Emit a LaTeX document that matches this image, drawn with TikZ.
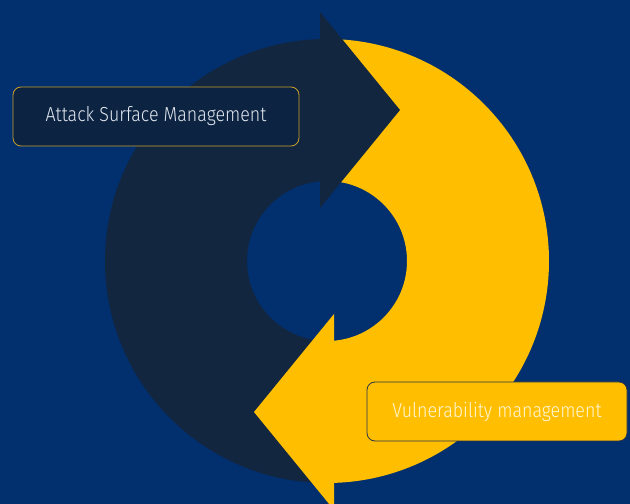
\documentclass[tikz,border=0pt]{standalone}
\usepackage{fontspec}
\newfontfamily\lblfont[FakeStretch=0.88]{Fira Sans Light}
\definecolor{bg}{HTML}{022F6E}
\definecolor{navy}{HTML}{13263F}
\definecolor{gold}{HTML}{FFBF00}
\definecolor{boxnavy}{HTML}{0C2341}
\definecolor{boxedge}{HTML}{C9A02A}
\definecolor{txtlight}{HTML}{E2E8F0}
\definecolor{txtyellow}{HTML}{FFF6D8}
\definecolor{edgedark}{HTML}{2A3347}
\begin{document}
\begin{tikzpicture}[x=1pt,y=1pt,
  labelbox/.style={rounded corners=8pt, line width=0.8pt, inner sep=0pt,
    font=\lblfont\fontsize{20.3}{24}\selectfont}]
\useasboundingbox (0,0) rectangle (630,504);
\fill[bg] (0,0) rectangle (630,504);
\clip (0,0) rectangle (630,504);
\coordinate (c) at (327,243);
% dark shaft (left half)
\fill[navy] ([shift={(c)}]90:222) arc[start angle=90,end angle=270,radius=222]
  -- ([shift={(c)}]270:80) arc[start angle=270,end angle=90,radius=80] -- cycle;
% yellow shaft (right half)
\fill[gold] ([shift={(c)}]-90:222) arc[start angle=-90,end angle=90,radius=222]
  -- ([shift={(c)}]90:80) arc[start angle=90,end angle=-90,radius=80] -- cycle;
% arrow heads
\coordinate (dh1) at (320,492);
\coordinate (dtip) at (400,394);
\coordinate (dh2) at (320,296);
\fill[navy] (dh1) -- (dtip) -- (dh2) -- cycle;
\coordinate (yh1) at (334,-6);
\coordinate (ytip) at (254,92);
\coordinate (yh2) at (334,190);
\fill[gold] (yh1) -- (ytip) -- (yh2) -- cycle;
% label boxes
\node[labelbox, draw=boxedge, fill=boxnavy, text=txtlight,
  minimum width=286pt, minimum height=59pt] (asm) at (156,387.5)
  {Attack Surface Management};
\node[labelbox, draw=edgedark, fill=gold, text=txtyellow,
  minimum width=260pt, minimum height=59pt] (vm) at (497,92.5)
  {Vulnerability management};
\end{tikzpicture}
\end{document}
